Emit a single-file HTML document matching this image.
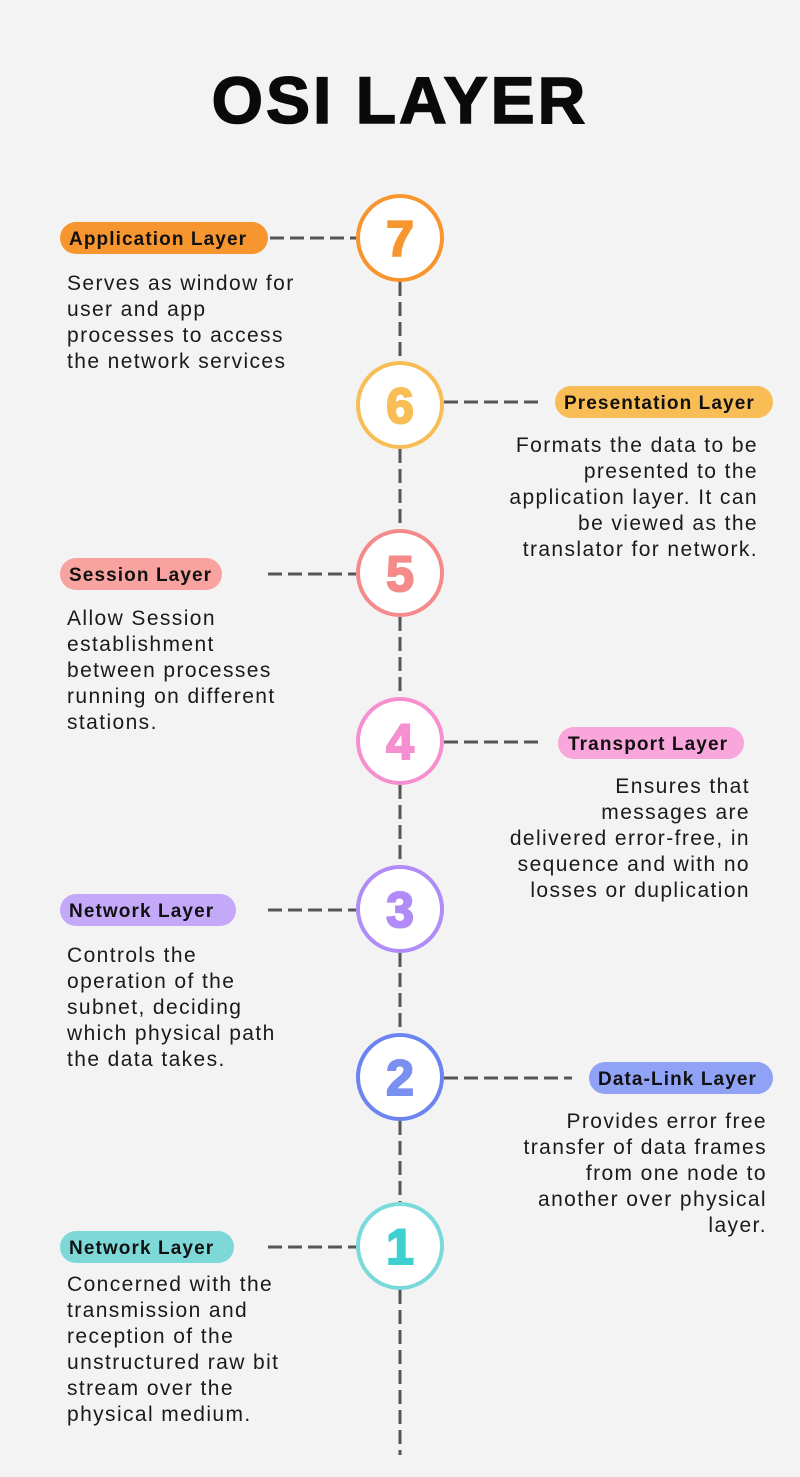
<!DOCTYPE html>
<html><head><meta charset="utf-8"><style>
html,body{margin:0;padding:0;background:#f3f3f3}
svg{display:block}
.t{font-family:"Liberation Sans",sans-serif;font-size:21px;fill:#1a1a1a;letter-spacing:1.4px}
.p{font-family:"Liberation Sans",sans-serif;font-size:19px;font-weight:bold;fill:#111;letter-spacing:1.1px}
.n{font-family:"Liberation Sans",sans-serif;font-size:50px;font-weight:900;text-anchor:middle}
</style></head><body>
<svg width="800" height="1477" viewBox="0 0 800 1477" xmlns="http://www.w3.org/2000/svg">
<rect width="800" height="1477" fill="#f3f3f3"/>
<text x="400" y="123" text-anchor="middle" font-family="Liberation Sans,sans-serif" font-weight="bold" font-size="66" letter-spacing="3" fill="#0a0a0a" stroke="#0a0a0a" stroke-width="1.5">OSI LAYER</text>
<g stroke="#555" stroke-width="3" stroke-dasharray="14,6" fill="none">
<line x1="400" y1="282" x2="400" y2="361"/>
<line x1="400" y1="449" x2="400" y2="529"/>
<line x1="400" y1="617" x2="400" y2="697"/>
<line x1="400" y1="785" x2="400" y2="865"/>
<line x1="400" y1="953" x2="400" y2="1033"/>
<line x1="400" y1="1121" x2="400" y2="1202"/>
<line x1="400" y1="1290" x2="400" y2="1455"/>
<line x1="270" y1="238" x2="356" y2="238"/>
<line x1="444" y1="402" x2="540" y2="402"/>
<line x1="268" y1="574" x2="356" y2="574"/>
<line x1="444" y1="742" x2="540" y2="742"/>
<line x1="268" y1="910" x2="356" y2="910"/>
<line x1="444" y1="1078" x2="572" y2="1078"/>
<line x1="268" y1="1247" x2="356" y2="1247"/>
</g>
<g fill="#fff" stroke-width="4">
<circle cx="400" cy="238" r="42" stroke="#f7952f"/>
<circle cx="400" cy="405" r="42" stroke="#f9bd55"/>
<circle cx="400" cy="573" r="42" stroke="#f48a8a"/>
<circle cx="400" cy="741" r="42" stroke="#f68fcf"/>
<circle cx="400" cy="909" r="42" stroke="#b18bf7"/>
<circle cx="400" cy="1077" r="42" stroke="#6b84ef"/>
<circle cx="400" cy="1246" r="42" stroke="#7ad9da"/>
</g>
<g stroke-width="2">
<text class="n" x="400" y="256" fill="#f7952f" stroke="#f7952f">7</text>
<text class="n" x="400" y="423" fill="#f9bd55" stroke="#f9bd55">6</text>
<text class="n" x="400" y="591" fill="#f48a8a" stroke="#f48a8a">5</text>
<text class="n" x="400" y="759" fill="#f68fcf" stroke="#f68fcf">4</text>
<text class="n" x="400" y="927" fill="#b18bf7" stroke="#b18bf7">3</text>
<text class="n" x="400" y="1095" fill="#7a90f0" stroke="#7a90f0">2</text>
<text class="n" x="400" y="1264" fill="#3ecfcf" stroke="#3ecfcf">1</text>
</g>
<rect x="60" y="222" width="208" height="32" rx="16" fill="#f7952f"/>
<text class="p" x="69" y="245">Application Layer</text>
<rect x="555" y="386" width="218" height="32" rx="16" fill="#f9bd55"/>
<text class="p" x="564" y="409">Presentation Layer</text>
<rect x="60" y="558" width="162" height="32" rx="16" fill="#f9a3a0"/>
<text class="p" x="69" y="581">Session Layer</text>
<rect x="558" y="727" width="186" height="32" rx="16" fill="#f8a6dc"/>
<text class="p" x="568" y="750">Transport Layer</text>
<rect x="60" y="894" width="176" height="32" rx="16" fill="#c4a9f8"/>
<text class="p" x="69" y="917">Network Layer</text>
<rect x="589" y="1062" width="184" height="32" rx="16" fill="#8fa2f5"/>
<text class="p" x="598" y="1085">Data-Link Layer</text>
<rect x="60" y="1231" width="174" height="32" rx="16" fill="#7ed8d8"/>
<text class="p" x="69" y="1254">Network Layer</text>
<g>
<text class="t" x="67" y="290">Serves as window for</text>
<text class="t" x="67" y="316">user and app</text>
<text class="t" x="67" y="342">processes to access</text>
<text class="t" x="67" y="368">the network services</text>
<text class="t" x="67" y="625">Allow Session</text>
<text class="t" x="67" y="651">establishment</text>
<text class="t" x="67" y="677">between processes</text>
<text class="t" x="67" y="703">running on different</text>
<text class="t" x="67" y="729">stations.</text>
<text class="t" x="67" y="962">Controls the</text>
<text class="t" x="67" y="988">operation of the</text>
<text class="t" x="67" y="1014">subnet, deciding</text>
<text class="t" x="67" y="1040">which physical path</text>
<text class="t" x="67" y="1066">the data takes.</text>
<text class="t" x="67" y="1291">Concerned with the</text>
<text class="t" x="67" y="1317">transmission and</text>
<text class="t" x="67" y="1343">reception of the</text>
<text class="t" x="67" y="1369">unstructured raw bit</text>
<text class="t" x="67" y="1395">stream over the</text>
<text class="t" x="67" y="1421">physical medium.</text>
</g>
<g text-anchor="end">
<text class="t" x="758" y="452">Formats the data to be</text>
<text class="t" x="758" y="478">presented to the</text>
<text class="t" x="758" y="504">application layer. It can</text>
<text class="t" x="758" y="530">be viewed as the</text>
<text class="t" x="758" y="556">translator for network.</text>
<text class="t" x="750" y="793">Ensures that</text>
<text class="t" x="750" y="819">messages are</text>
<text class="t" x="750" y="845">delivered error-free, in</text>
<text class="t" x="750" y="871">sequence and with no</text>
<text class="t" x="750" y="897">losses or duplication</text>
<text class="t" x="767" y="1128">Provides error free</text>
<text class="t" x="767" y="1154">transfer of data frames</text>
<text class="t" x="767" y="1180">from one node to</text>
<text class="t" x="767" y="1206">another over physical</text>
<text class="t" x="767" y="1232">layer.</text>
</g>
</svg>
</body></html>
